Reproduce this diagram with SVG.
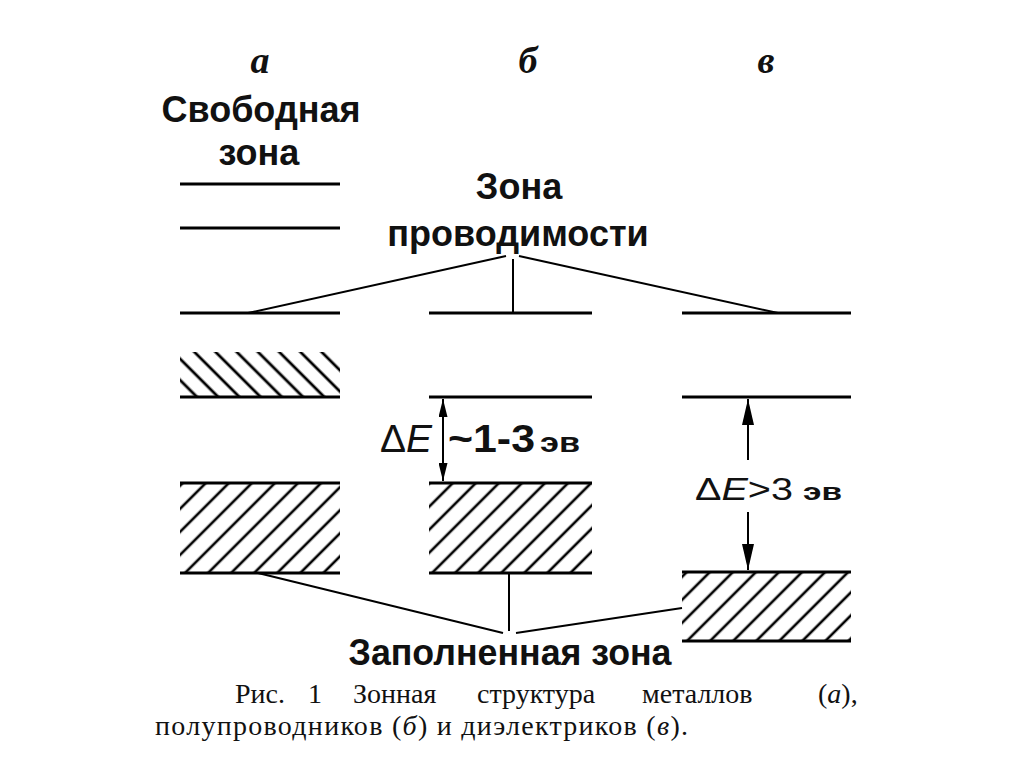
<svg xmlns="http://www.w3.org/2000/svg" width="1024" height="767" viewBox="0 0 1024 767">
<style>
.lvl{stroke:#000;stroke-width:3;fill:none}
.con{stroke:#000;stroke-width:2;fill:none}
.lab{font-family:"Liberation Sans",Arial,sans-serif;font-weight:bold;font-size:36px;fill:#111;text-anchor:middle}
.hd{font-family:"Liberation Serif","Times New Roman",serif;font-weight:bold;font-style:italic;font-size:38px;fill:#111;text-anchor:middle}
.cap{font-family:"Liberation Serif","Times New Roman",serif;font-size:28px;fill:#111}
.de{font-family:"Liberation Sans",Arial,sans-serif;fill:#111}
</style>
<defs>
<pattern id="hA" patternUnits="userSpaceOnUse" width="16.3" height="20" patternTransform="translate(185,573) rotate(45)">
<line x1="0" y1="-5" x2="0" y2="25" stroke="#000" stroke-width="2.6"/>
<line x1="16.3" y1="-5" x2="16.3" y2="25" stroke="#000" stroke-width="2.6"/>
</pattern>
<pattern id="hB" patternUnits="userSpaceOnUse" width="16.3" height="20" patternTransform="translate(432,573) rotate(45)">
<line x1="0" y1="-5" x2="0" y2="25" stroke="#000" stroke-width="2.6"/>
<line x1="16.3" y1="-5" x2="16.3" y2="25" stroke="#000" stroke-width="2.6"/>
</pattern>
<pattern id="hC" patternUnits="userSpaceOnUse" width="16.3" height="20" patternTransform="translate(688,640) rotate(45)">
<line x1="0" y1="-5" x2="0" y2="25" stroke="#000" stroke-width="2.6"/>
<line x1="16.3" y1="-5" x2="16.3" y2="25" stroke="#000" stroke-width="2.6"/>
</pattern>
<pattern id="hD" patternUnits="userSpaceOnUse" width="15" height="20" patternTransform="translate(197,397) rotate(-45)">
<line x1="0" y1="-5" x2="0" y2="25" stroke="#000" stroke-width="2.8"/>
<line x1="15" y1="-5" x2="15" y2="25" stroke="#000" stroke-width="2.8"/>
</pattern>
<marker id="ah" viewBox="0 0 20 10" refX="20" refY="5" markerUnits="userSpaceOnUse" markerWidth="20" markerHeight="9" orient="auto-start-reverse">
<path d="M0,0 L20,5 L0,10 Z" fill="#000"/>
</marker>
<marker id="ah2" viewBox="0 0 26 12" refX="26" refY="6" markerUnits="userSpaceOnUse" markerWidth="26" markerHeight="12" orient="auto-start-reverse">
<path d="M0,0 L26,6 L0,12 Z" fill="#000"/>
</marker>
</defs>
<rect width="1024" height="767" fill="#fff"/>

<g id="headers">
<text class="hd" x="260" y="73">а</text>
<text class="hd" x="528" y="73">б</text>
<text class="hd" x="766" y="73">в</text>
</g>

<g id="label-free">
<text class="lab" x="261" y="122">Свободная</text>
<text class="lab" x="259" y="165">зона</text>
</g>
<g id="label-conduction">
<text class="lab" x="519" y="199">Зона</text>
<text class="lab" x="518" y="246">проводимости</text>
</g>
<g id="label-filled">
<text class="lab" x="510" y="665" font-size="40" textLength="323" lengthAdjust="spacingAndGlyphs">Заполненная зона</text>
</g>

<g id="metal-a">
<line class="lvl" x1="180" y1="184" x2="340" y2="184"/>
<line class="lvl" x1="180" y1="228" x2="340" y2="228"/>
<line class="lvl" x1="180" y1="313" x2="340" y2="313"/>
<rect x="180" y="352" width="160" height="45" fill="url(#hD)"/>
<line class="lvl" x1="180" y1="397" x2="340" y2="397"/>
<rect x="180" y="483" width="160" height="90" fill="url(#hA)"/>
<line class="lvl" x1="180" y1="483" x2="340" y2="483"/>
<line class="lvl" x1="180" y1="573" x2="340" y2="573"/>
</g>

<g id="semiconductor-b">
<line class="lvl" x1="429" y1="313" x2="592" y2="313"/>
<line class="lvl" x1="429" y1="397" x2="592" y2="397"/>
<rect x="429" y="483" width="163" height="90" fill="url(#hB)"/>
<line class="lvl" x1="429" y1="483" x2="592" y2="483"/>
<line class="lvl" x1="429" y1="573" x2="592" y2="573"/>
<line class="con" x1="443" y1="399" x2="443" y2="481" marker-start="url(#ah)" marker-end="url(#ah)"/>
<text class="de" x="380" y="452" font-size="38" textLength="52" lengthAdjust="spacingAndGlyphs">Δ<tspan font-style="italic">E</tspan></text>
<text class="de" x="448" y="452" font-size="38" font-weight="bold" textLength="87" lengthAdjust="spacingAndGlyphs">~1-3</text>
<text class="de" x="540" y="452" font-size="27" font-weight="bold" textLength="40" lengthAdjust="spacingAndGlyphs">эв</text>
</g>

<g id="dielectric-c">
<line class="lvl" x1="682" y1="313" x2="851" y2="313"/>
<line class="lvl" x1="682" y1="397" x2="851" y2="397"/>
<rect x="682" y="572" width="169" height="68" fill="url(#hC)"/>
<line class="lvl" x1="682" y1="572" x2="851" y2="572"/>
<line class="lvl" x1="682" y1="641" x2="851" y2="641"/>
<line class="con" x1="748" y1="460" x2="748" y2="399" marker-end="url(#ah2)"/>
<line class="con" x1="748" y1="512" x2="748" y2="570" marker-end="url(#ah2)"/>
<text class="de" x="695" y="500" font-size="31" textLength="98" lengthAdjust="spacingAndGlyphs">Δ<tspan font-style="italic">E</tspan>&gt;3</text>
<text class="de" x="803" y="500" font-size="24" font-weight="bold" textLength="39" lengthAdjust="spacingAndGlyphs">эв</text>
</g>

<g id="connectors">
<line class="con" x1="506" y1="256" x2="248" y2="313"/>
<line class="con" x1="513" y1="259" x2="513" y2="313"/>
<line class="con" x1="519" y1="256" x2="778" y2="313"/>
<line class="con" x1="258" y1="573" x2="503" y2="633"/>
<line class="con" x1="509" y1="573" x2="509" y2="631"/>
<line class="con" x1="516" y1="633" x2="682" y2="608"/>
</g>

<g id="caption">
<text class="cap" x="235" y="703">Рис.</text>
<text class="cap" x="308" y="703">1</text>
<text class="cap" x="353" y="703">Зонная</text>
<text class="cap" x="477" y="703">структура</text>
<text class="cap" x="642" y="703">металлов</text>
<text class="cap" x="818" y="703">(<tspan font-style="italic">а</tspan>),</text>
<text class="cap" x="155" y="735" textLength="533" lengthAdjust="spacing">полупроводников (<tspan font-style="italic">б</tspan>) и диэлектриков (<tspan font-style="italic">в</tspan>).</text>
</g>
</svg>
